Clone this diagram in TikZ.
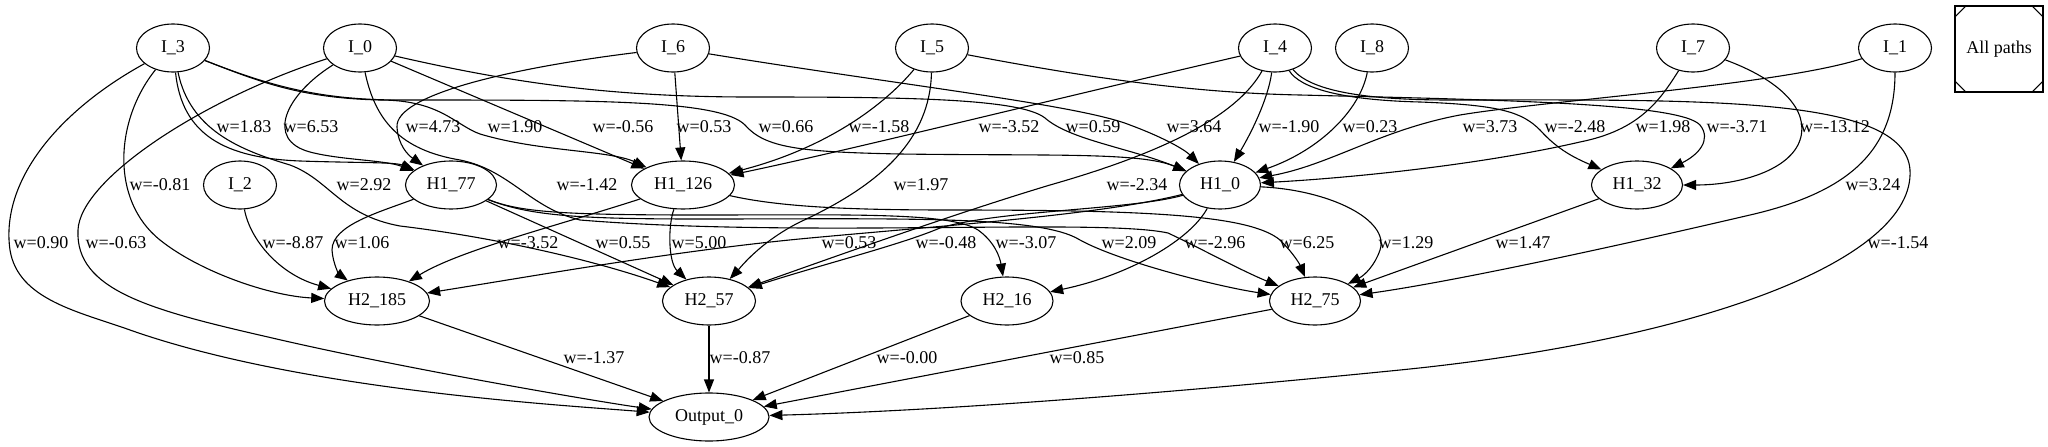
\documentclass[tikz,border=0pt]{standalone}
\usepackage{fontspec}
\setmainfont{Liberation Serif}
\usetikzlibrary{arrows.meta,shapes.geometric}
\begin{document}
\begin{tikzpicture}[x=1pt,y=-1pt,
  font=\fontsize{18}{20}\selectfont,
  nd/.style={draw, ellipse, line width=1.1pt, inner sep=0pt, minimum height=48pt, minimum width=#1},
  cn/.style={line width=1.1pt, -{Triangle[length=13pt,width=10pt]}},
  lbl/.style={inner sep=0pt}]
\useasboundingbox (0,0) rectangle (2048,447);
% rank 0
\node[nd=73pt] (I3) at (173,48) {I\_3};
\node[nd=73pt] (I0) at (360,48) {I\_0};
\node[nd=73pt] (I6) at (673,48) {I\_6};
\node[nd=73pt] (I5) at (932,48) {I\_5};
\node[nd=73pt] (I4) at (1275,48) {I\_4};
\node[nd=73pt] (I8) at (1372,48) {I\_8};
\node[nd=73pt] (I7) at (1693,48) {I\_7};
\node[nd=73pt] (I1) at (1895,48) {I\_1};
\node[draw, line width=1.1pt, minimum width=88pt, minimum height=86pt, inner sep=0pt] (allp) at (1999,49) {All paths};
\draw[line width=1.1pt] ([yshift=-12pt]allp.north west) -- ([xshift=12pt]allp.north west);
\draw[line width=1.1pt] ([yshift=-12pt]allp.north east) -- ([xshift=-12pt]allp.north east);
\draw[line width=1.1pt] ([yshift=12pt]allp.south west) -- ([xshift=12pt]allp.south west);
\draw[line width=1.1pt] ([yshift=12pt]allp.south east) -- ([xshift=-12pt]allp.south east);
% rank 1
\node[nd=73pt] (I2) at (240,185) {I\_2};
\node[nd=91pt] (H177) at (451,185) {H1\_77};
\node[nd=103pt] (H1126) at (683,185) {H1\_126};
\node[nd=81pt] (H10) at (1220,185) {H1\_0};
\node[nd=91pt] (H132) at (1637,185) {H1\_32};
% rank 2
\node[nd=105pt] (H2185) at (377,301) {H2\_185};
\node[nd=93pt] (H257) at (709,301) {H2\_57};
\node[nd=92pt] (H216) at (1007,301) {H2\_16};
\node[nd=91pt] (H275) at (1315,301) {H2\_75};
% rank 3
\node[nd=120pt] (Out) at (709,417) {Output\_0};

% I -> H1
\draw[cn] (I3) .. controls (182,135) and (225,158) .. (300,161) .. controls (360,163) and (395,162) .. (H177);
\draw[cn] (I0) .. controls (285,95) and (265,140) .. (310,152) .. controls (340,160) and (385,160) .. (H177);
\draw[cn] (I6) .. controls (510,68) and (395,95) .. (397,127) .. controls (398,145) and (408,155) .. (H177);
\draw[cn] (I3) .. controls (260,82) and (300,98) .. (380,100) .. controls (440,100) and (455,125) .. (480,134) .. controls (540,152) and (610,150) .. (H1126);
\draw[cn] (I0) -- (H1126);
\draw[cn] (I6) -- (H1126);
\draw[cn] (I5) .. controls (880,110) and (820,150) .. (H1126);
\draw[cn] (I4) .. controls (1050,100) and (850,150) .. (H1126);
\draw[cn] (I3) .. controls (270,86) and (320,100) .. (400,100) .. controls (600,100) and (720,100) .. (745,125) .. controls (765,148) and (800,152) .. (900,154) .. controls (1050,156) and (1140,152) .. (H10);
\draw[cn] (I0) .. controls (500,80) and (600,97) .. (750,97) .. controls (900,97) and (1020,98) .. (1045,118) .. controls (1070,140) and (1130,148) .. (H10);
\draw[cn] (I6) .. controls (900,85) and (1080,105) .. (1130,125) .. controls (1165,138) and (1185,150) .. (H10);
\draw[cn] (I4) .. controls (1268,100) and (1250,135) .. (H10);
\draw[cn] (I8) .. controls (1360,110) and (1320,150) .. (H10);
\draw[cn] (I1) .. controls (1780,85) and (1550,100) .. (1460,115) .. controls (1380,130) and (1330,165) .. (H10);
\draw[cn] (I7) .. controls (1660,100) and (1640,130) .. (1580,142) .. controls (1480,165) and (1350,178) .. (H10);
\draw[cn] (I4) .. controls (1300,88) and (1340,100) .. (1420,102) .. controls (1500,105) and (1522,112) .. (1540,130) .. controls (1558,150) and (1575,158) .. (H132);
\draw[cn] (I5) .. controls (1100,80) and (1200,93) .. (1300,95) .. controls (1500,100) and (1680,103) .. (1700,125) .. controls (1712,140) and (1698,155) .. (H132);
\draw[cn] (I7) .. controls (1780,80) and (1810,110) .. (1800,140) .. controls (1790,170) and (1740,185) .. (H132);
% I -> H2
\draw[cn] (I3) .. controls (115,120) and (110,200) .. (160,240) .. controls (200,272) and (270,296) .. (H2185);
\draw[cn] (I3) .. controls (190,130) and (240,150) .. (290,165) .. controls (330,180) and (340,215) .. (400,226) .. controls (500,238) and (600,262) .. (H257);
\draw[cn] (I0) .. controls (375,120) and (400,150) .. (460,160) .. controls (510,170) and (530,208) .. (580,220) .. controls (800,238) and (1100,218) .. (1168,233) .. controls (1200,248) and (1240,270) .. (H275);
\draw[cn] (I5) .. controls (930,140) and (880,185) .. (800,222) .. controls (760,242) and (740,268) .. (H257);
\draw[cn] (I4) .. controls (1240,110) and (1180,148) .. (1050,185) .. controls (950,215) and (820,262) .. (H257);
\draw[cn] (I1) .. controls (1895,150) and (1850,192) .. (1750,215) .. controls (1600,250) and (1450,282) .. (H275);
% I -> Output
\draw[cn] (I3) .. controls (60,110) and (0,180) .. (10,250) .. controls (18,300) and (80,312) .. (130,330) .. controls (300,390) and (560,405) .. (Out);
\draw[cn] (I0) .. controls (200,100) and (80,180) .. (78,230) .. controls (75,290) and (150,310) .. (268,337) .. controls (400,368) and (600,402) .. (Out);
\draw[cn] (I4) .. controls (1310,90) and (1360,100) .. (1450,100) .. controls (1700,100) and (1905,95) .. (1910,170) .. controls (1915,260) and (1700,340) .. (1400,370) .. controls (1100,400) and (900,412) .. (Out);
% I2
\draw[cn] (I2) .. controls (250,240) and (280,275) .. (H2185);
% H1 -> H2
\draw[cn] (H177) .. controls (380,212) and (332,225) .. (332,250) .. controls (333,265) and (340,275) .. (H2185);
\draw[cn] (H177) -- (H257);
\draw[cn] (H177) .. controls (520,212) and (560,215) .. (700,215) .. controls (850,215) and (950,212) .. (978,230) .. controls (995,242) and (1000,258) .. (H216);
\draw[cn] (H177) .. controls (530,216) and (580,219) .. (700,219) .. controls (900,219) and (1040,215) .. (1080,240) .. controls (1120,262) and (1220,287) .. (H275);
\draw[cn] (H1126) .. controls (560,225) and (460,250) .. (H2185);
\draw[cn] (H1126) .. controls (668,225) and (668,262) .. (H257);
\draw[cn] (H1126) .. controls (780,207) and (850,210) .. (950,210) .. controls (1150,210) and (1250,215) .. (1280,240) .. controls (1295,255) and (1300,265) .. (H275);
\draw[cn] (H10) .. controls (1100,215) and (950,225) .. (810,238) .. controls (680,250) and (540,275) .. (H2185);
\draw[cn] (H10) .. controls (1130,210) and (1000,210) .. (940,228) .. controls (900,245) and (820,265) .. (H257);
\draw[cn] (H10) .. controls (1190,240) and (1130,275) .. (H216);
\draw[cn] (H10) .. controls (1330,190) and (1390,220) .. (1380,250) .. controls (1375,265) and (1365,275) .. (H275);
\draw[cn] (H132) -- (H275);
% H2 -> Output
\draw[cn] (H2185) -- (Out);
\draw[cn] (H257) -- (Out);
\draw[cn] (H216) -- (Out);
\draw[cn] (H275) -- (Out);

% labels row A
\node[lbl] (la1) at (244,127) {w=1.83};
\node[lbl] (la2) at (311,127) {w=6.53};
\node[lbl] (la3) at (433,127) {w=4.73};
\node[lbl] (la4) at (515,127) {w=1.90};
\node[lbl] (la5) at (623,127) {w=-0.56};
\node[lbl] (la6) at (704,127) {w=0.53};
\node[lbl] (la7) at (786,127) {w=0.66};
\node[lbl] (la8) at (879,127) {w=-1.58};
\node[lbl] (la9) at (1009,127) {w=-3.52};
\node[lbl] (la10) at (1093,127) {w=0.59};
\node[lbl] (la11) at (1194,127) {w=3.64};
\node[lbl] (la12) at (1289,127) {w=-1.90};
\node[lbl] (la13) at (1370,127) {w=0.23};
\node[lbl] (la14) at (1490,127) {w=3.73};
\node[lbl] (la15) at (1575,127) {w=-2.48};
\node[lbl] (la16) at (1663,127) {w=1.98};
\node[lbl] (la17) at (1737,127) {w=-3.71};
\node[lbl] (la18) at (1835,127) {w=-13.12};
% labels row B
\node[lbl] (lb1) at (160,185) {w=-0.81};
\node[lbl] (lb2) at (364,185) {w=2.92};
\node[lbl] (lb3) at (587,185) {w=-1.42};
\node[lbl] (lb4) at (921,185) {w=1.97};
\node[lbl] (lb5) at (1137,185) {w=-2.34};
\node[lbl] (lb6) at (1873,185) {w=3.24};
% labels row C
\node[lbl] (lc1) at (41,243) {w=0.90};
\node[lbl] (lc2) at (116,243) {w=-0.63};
\node[lbl] (lc3) at (293,243) {w=-8.87};
\node[lbl] (lc4) at (362,243) {w=1.06};
\node[lbl] (lc5) at (528,243) {w=-3.52};
\node[lbl] (lc6) at (623,243) {w=0.55};
\node[lbl] (lc7) at (699,243) {w=5.00};
\node[lbl] (lc8) at (849,243) {w=0.53};
\node[lbl] (lc9) at (946,243) {w=-0.48};
\node[lbl] (lc10) at (1026,243) {w=-3.07};
\node[lbl] (lc11) at (1129,243) {w=2.09};
\node[lbl] (lc12) at (1215,243) {w=-2.96};
\node[lbl] (lc13) at (1307,243) {w=6.25};
\node[lbl] (lc14) at (1406,243) {w=1.29};
\node[lbl] (lc15) at (1523,243) {w=1.47};
\node[lbl] (lc16) at (1898,243) {w=-1.54};
% labels row D
\node[lbl] (ld1) at (594,358) {w=-1.37};
\node[lbl] (ld2) at (740,358) {w=-0.87};
\node[lbl] (ld3) at (907,358) {w=-0.00};
\node[lbl] (ld4) at (1077,358) {w=0.85};
\end{tikzpicture}
\end{document}
